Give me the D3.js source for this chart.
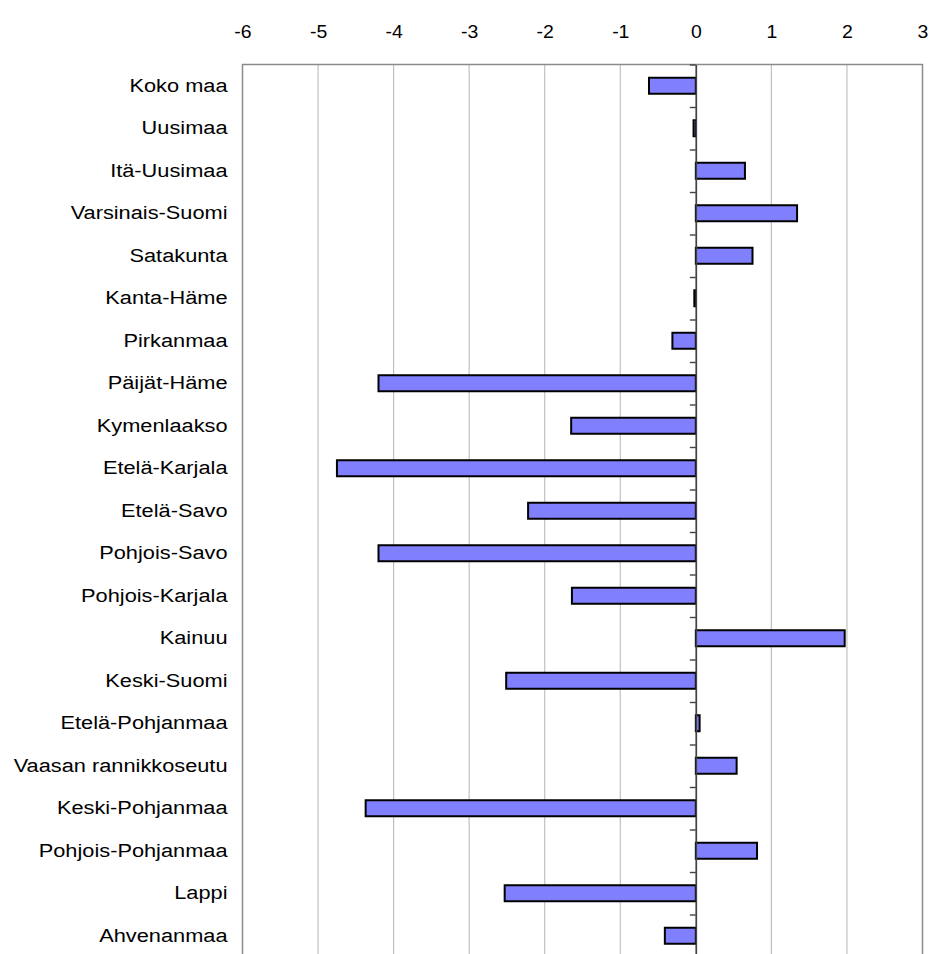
<!DOCTYPE html>
<html>
<head>
<meta charset="utf-8">
<script src="https://cdn.jsdelivr.net/npm/d3@7"></script>
<style>
  body { margin: 0; background: #fff; }
  text { font-family: "Liberation Sans", Arial, sans-serif; fill: #000; }
</style>
</head>
<body>
<div class="container"></div>
<script>
var regions = ["Koko maa", "Uusimaa", "Itä-Uusimaa", "Varsinais-Suomi", "Satakunta",
  "Kanta-Häme", "Pirkanmaa", "Päijät-Häme", "Kymenlaakso", "Etelä-Karjala",
  "Etelä-Savo", "Pohjois-Savo", "Pohjois-Karjala", "Kainuu", "Keski-Suomi",
  "Etelä-Pohjanmaa", "Vaasan rannikkoseutu", "Keski-Pohjanmaa", "Pohjois-Pohjanmaa",
  "Lappi", "Ahvenanmaa"];
var change = [-0.62, -0.03, 0.65, 1.34, 0.75, -0.02, -0.31, -4.2, -1.65, -4.75,
  -2.22, -4.2, -1.64, 1.97, -2.51, 0.05, 0.54, -4.37, 0.81, -2.53, -0.41];
var xTicks = [-6, -5, -4, -3, -2, -1, 0, 1, 2, 3];

var W = 930, H = 954;
var plotL = 242.5, plotR = 922.5, plotT = 64.5, step = 42.5;
var plotB = plotT + step * regions.length;
var barH = 16;
var stretch = 1.21; // labels in the original are drawn wide

var svg = d3.select(".container").append("svg")
  .attr("width", W)
  .attr("height", H);

var x = d3.scaleLinear().domain([-6, 3]).range([plotL, plotR]);
var y = d3.scaleBand().domain(regions).range([plotT, plotB]).padding(0);
var yIdx = d3.scaleLinear().domain([0, regions.length]).range([plotT, plotB]);

// grid
svg.append("g").selectAll("line").data(xTicks.slice(1, -1)).enter()
  .append("line")
  .attr("x1", function(d){ return x(d); })
  .attr("x2", function(d){ return x(d); })
  .attr("y1", plotT).attr("y2", plotB)
  .attr("stroke", "#c0c0c0").attr("stroke-width", 1.2);

// plot frame
svg.append("rect")
  .attr("x", plotL).attr("y", plotT)
  .attr("width", plotR - plotL).attr("height", plotB - plotT)
  .attr("fill", "none").attr("stroke", "#8a8a8a").attr("stroke-width", 1.5);

// top value axis (plain hyphen minus like the original)
var xAxis = svg.append("g")
  .attr("transform", "translate(0," + plotT + ")")
  .call(d3.axisTop(x).tickValues(xTicks).tickSize(0).tickPadding(27)
    .tickFormat(function(d){ return String(d); }));
xAxis.select(".domain").remove();
xAxis.selectAll("text").style("font-size", "18px")
  .style("font-family", "Liberation Sans, Arial, sans-serif")
  .attr("transform", "scale(1.08,1)")
  .attr("x", 0);

// bars
svg.append("g").selectAll("rect").data(change).enter()
  .append("rect")
  .attr("x", function(d){ return x(Math.min(0, d)); })
  .attr("y", function(d, i){ return y(regions[i]) + (step - barH) / 2; })
  .attr("width", function(d){ return Math.abs(x(d) - x(0)); })
  .attr("height", barH)
  .attr("fill", "#8080ff")
  .attr("stroke", "#000")
  .attr("stroke-width", 2);

// zero axis with minor ticks
var zAxis = svg.append("g")
  .attr("transform", "translate(" + x(0) + ",0)")
  .call(d3.axisLeft(yIdx).tickValues(d3.range(0, regions.length + 1)).tickSize(6).tickSizeOuter(0).tickFormat(""));
zAxis.select(".domain").attr("stroke", "#444").attr("stroke-width", 1.6);
zAxis.selectAll(".tick line").attr("stroke", "#444").attr("stroke-width", 1.4);

// category labels
var cAxis = svg.append("g")
  .attr("transform", "translate(" + plotL + ",0)")
  .call(d3.axisLeft(y).tickSize(0).tickPadding(15));
cAxis.select(".domain").remove();
cAxis.selectAll("text").style("font-size", "18px")
  .style("font-family", "Liberation Sans, Arial, sans-serif")
  .attr("x", -15 / stretch)
  .attr("transform", "scale(" + stretch + ",1)");
</script>
</body>
</html>
